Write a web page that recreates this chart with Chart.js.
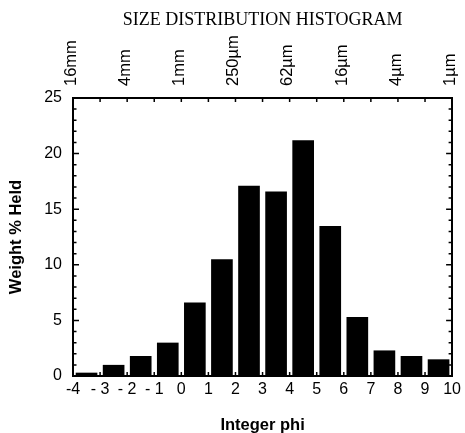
<!DOCTYPE html>
<html>
<head>
<meta charset="utf-8">
<script src="https://cdn.jsdelivr.net/npm/chart.js@4"></script>
<style>
  body { margin: 0; background: #fff; }
</style>
</head>
<body>
<canvas id="myChart" width="465" height="433"></canvas>
<script>
// phi class (left edge) and weight % held in each class
const phiClass = [-4, -3, -2, -1, 0, 1, 2, 3, 4, 5, 6, 7, 8, 9]
const weightHeld = [0.3, 1.0, 1.8, 3.0, 6.6, 10.5, 17.1, 16.6, 21.2, 13.5, 5.3, 2.3, 1.8, 1.5]

// grain size labels along the top axis
const sizePhi = [-4, -2, 0, 2, 4, 6, 8, 10]
const sizeLabels = ['16mm', '4mm', '1mm', '250µm', '62µm', '16µm', '4µm', '1µm']

const sans = '"Liberation Sans", Arial, sans-serif'

// inward tick marks on all four sides of the frame
const innerTicks = {
    id: 'innerTicks',
    afterDraw(chart) {
        const ctx = chart.ctx
        const { left, right, top, bottom } = chart.chartArea
        const x = chart.scales.x
        const y = chart.scales.y
        ctx.save()
        ctx.strokeStyle = '#000'
        ctx.lineWidth = 1.5
        ctx.beginPath()
        for (let v = 0; v <= 25; v++) {
            const py = y.getPixelForValue(v)
            const len = v % 5 === 0 ? 6 : 3.5
            ctx.moveTo(left, py); ctx.lineTo(left + len, py)
            ctx.moveTo(right, py); ctx.lineTo(right - len, py)
        }
        for (let v = -4; v <= 10; v++) {
            const px = x.getPixelForValue(v)
            ctx.moveTo(px, top); ctx.lineTo(px, top + 4)
            ctx.moveTo(px, bottom); ctx.lineTo(px, bottom - 4)
        }
        ctx.stroke()
        ctx.restore()
    }
}

const data = {
    datasets: [{
        label: 'Weight % Held',
        data: phiClass.map((p, i) => ({ x: p + 0.5, y: weightHeld[i] })),
        backgroundColor: '#000',
        borderWidth: 0,
        barPercentage: 0.8,
        categoryPercentage: 1,
        xAxisID: 'x',
        yAxisID: 'y'
    }]
}

const config = {
    type: 'bar',
    data: data,
    options: {
        responsive: false,
        animation: false,
        layout: { padding: 0 },
        plugins: {
            legend: { display: false },
            tooltip: { enabled: false },
            title: { display: false }
        },
        scales: {
            x: {
                type: 'linear',
                position: 'bottom',
                min: -4,
                max: 10,
                offset: false,
                afterFit: s => { s.height = 57 },
                grid: { display: false, drawTicks: false },
                border: { display: true, color: '#000', width: 2 },
                ticks: {
                    stepSize: 1,
                    autoSkip: false,
                    maxRotation: 0,
                    padding: 4,
                    color: '#000',
                    font: { family: sans, size: 16 },
                    callback: v => (v < 0 && v > -4) ? '- ' + (-v) : String(v)
                },
                title: {
                    display: true,
                    text: 'Integer phi',
                    color: '#000',
                    font: { family: sans, size: 16.5, weight: 'bold' },
                    padding: { top: 0, bottom: -2 }
                }
            },
            x2: {
                type: 'linear',
                position: 'top',
                min: -4,
                max: 10,
                offset: false,
                afterFit: s => { s.height = 98 },
                grid: { display: false, drawTicks: false },
                border: { display: true, color: '#000', width: 2 },
                ticks: {
                    stepSize: 2,
                    autoSkip: false,
                    minRotation: 90,
                    maxRotation: 90,
                    padding: 12,
                    labelOffset: 18,
                    color: '#000',
                    font: { family: sans, size: 16.5 },
                    callback: v => {
                        const i = sizePhi.indexOf(v)
                        return i >= 0 ? sizeLabels[i] : ''
                    }
                },
                title: {
                    display: true,
                    text: 'SIZE DISTRIBUTION HISTOGRAM',
                    color: '#000',
                    font: { family: '"Liberation Serif", "Times New Roman", serif', size: 18, weight: 'normal' },
                    padding: { top: 9, bottom: 0 }
                }
            },
            y: {
                position: 'left',
                min: 0,
                max: 25,
                afterFit: s => { s.width = 73 },
                grid: { display: false, drawTicks: false },
                border: { display: true, color: '#000', width: 2 },
                ticks: {
                    stepSize: 5,
                    padding: 11,
                    color: '#000',
                    font: { family: sans, size: 16 }
                },
                title: {
                    display: true,
                    text: 'Weight % Held',
                    color: '#000',
                    font: { family: sans, size: 16.5, weight: 'bold' },
                    padding: { top: 7, bottom: 0 }
                }
            },
            y2: {
                position: 'right',
                min: 0,
                max: 25,
                afterFit: s => { s.width = 12 },
                grid: { display: false, drawTicks: false },
                border: { display: true, color: '#000', width: 2 },
                ticks: { display: false, stepSize: 5 }
            }
        }
    },
    plugins: [innerTicks]
}

const myChart = new Chart(document.getElementById('myChart'), config)
</script>
</body>
</html>
